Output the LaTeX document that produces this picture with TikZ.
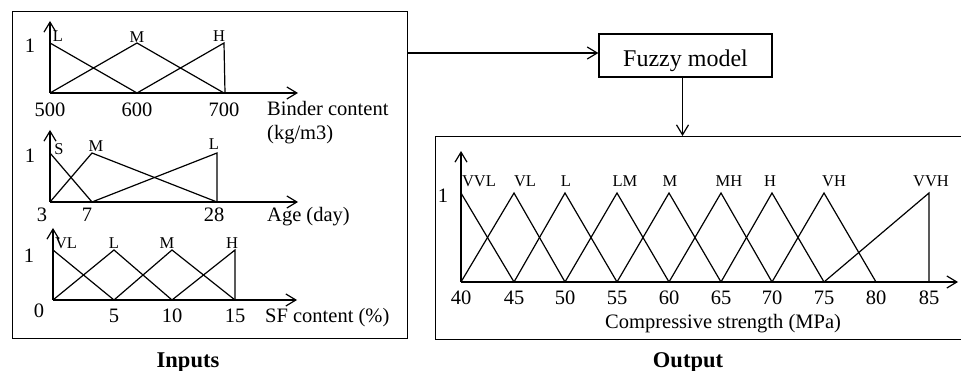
\documentclass[tikz,border=0pt]{standalone}
\usepackage{fontspec}
\setmainfont{Liberation Serif}
\usetikzlibrary{arrows.meta}
\begin{document}
\begin{tikzpicture}[x=1pt,y=-1pt,
  ax/.style={line width=1.2pt,-{Straight Barb[length=10pt,width=12pt,line width=1.2pt]}},
  mf/.style={line width=1.2pt, line join=miter},
  lbl/.style={font=\fontsize{16.5}{18}\selectfont, anchor=base, inner sep=0pt},
  num/.style={font=\fontsize{20.5}{24}\selectfont, anchor=base, inner sep=0pt},
  ttl/.style={font=\fontsize{20.5}{24}\selectfont, anchor=base west, inner sep=0pt},
  grouplabel/.style={font=\fontsize{22.5}{26}\selectfont\bfseries, anchor=base, inner sep=0pt},
  box/.style={draw, line width=1.2pt, inner sep=0pt},
  conn/.style={line width=1.2pt, -{Straight Barb[length=10pt,width=12pt,line width=1.2pt]}}
]
\useasboundingbox (0,0) rectangle (961,371);

% boxes
\node[box, minimum width=395pt, minimum height=327pt, anchor=north west] (inbox) at (12,11) {};
\node[box, minimum width=173pt, minimum height=43pt, text height=25pt, text depth=2pt,
      font=\fontsize{24}{28}\selectfont] (fuzzy) at (685.5,55.5) {Fuzzy model};
\node[box, minimum width=540pt, minimum height=203pt, anchor=north west] (outbox) at (435,136) {};

\draw[conn] ([yshift=2.5pt]inbox.east |- fuzzy.west) -- ([yshift=2.5pt]fuzzy.west);
\draw[conn] ([xshift=-3pt]fuzzy.south) -- ([xshift=-3pt]fuzzy.south |- outbox.north);

% ---- Binder content
\draw[ax] (50,93) -- (298,93);
\draw[ax] (50,93) -- (50,21);
\draw[mf] (50,93) -- (50,43) -- (137,93);
\draw[mf] (50,93) -- (137,43) -- (224,93);
\draw[mf] (137,93) -- (224,43) -- (225,93);
\node[lbl] (bL) at (58,42) {L};
\node[lbl] (bM) at (137,43) {M};
\node[lbl] (bH) at (219,42) {H};
\node[num] (b1) at (30,53) {1};
\node[num] (b500) at (50,117) {500};
\node[num] (b600) at (137,117) {600};
\node[num] (b700) at (224,117) {700};
\node[ttl] (bt1) at (267,116) {Binder content};
\node[ttl] (bt2) at (267,140) {(kg/m3)};

% ---- Age
\draw[ax] (50,202) -- (298,202);
\draw[ax] (50,202) -- (50,130);
\draw[mf] (50,202) -- (50,153) -- (92,202);
\draw[mf] (50,202) -- (92,153) -- (217,202);
\draw[mf] (92,202) -- (217,153) -- (217,202);
\node[lbl] (aS) at (59,155) {S};
\node[lbl] (aM) at (96,152) {M};
\node[lbl] (aL) at (214,150) {L};
\node[num] (a1) at (30,163) {1};
\node[num] (a3) at (42,222) {3};
\node[num] (a7) at (87,222) {7};
\node[num] (a28) at (214,222) {28};
\node[ttl] (at) at (267,222) {Age (day)};

% ---- SF content
\draw[ax] (53,300) -- (297,300);
\draw[ax] (53,300) -- (53,228);
\draw[mf] (53,300) -- (53,250) -- (114,300);
\draw[mf] (53,300) -- (114,250) -- (172,300);
\draw[mf] (114,300) -- (172,250) -- (235,300);
\draw[mf] (172,300) -- (235,250) -- (235,300);
\node[lbl] (sVL) at (66,249) {VL};
\node[lbl] (sL) at (114,249) {L};
\node[lbl] (sM) at (167,249) {M};
\node[lbl] (sH) at (232,249) {H};
\node[num] (s1) at (29,263) {1};
\node[num] (s0) at (39,318) {0};
\node[num] (s5) at (114,323) {5};
\node[num] (s10) at (172,323) {10};
\node[num] (s15) at (235,323) {15};
\node[ttl] (st) at (265,323) {SF content (\%)};

\node[grouplabel] (inlab) at (188,367) {Inputs};

% ---- Output
\draw[ax] (461,282) -- (958,282);
\draw[ax] (461,282) -- (461,151);
\draw[mf] (461,282) -- (461,193) -- (514,282);
\draw[mf] (461,282) -- (514,193) -- (565,282);
\draw[mf] (514,282) -- (565,193) -- (617,282);
\draw[mf] (565,282) -- (617,193) -- (669,282);
\draw[mf] (617,282) -- (669,193) -- (721,282);
\draw[mf] (669,282) -- (721,193) -- (772,282);
\draw[mf] (721,282) -- (772,193) -- (824,282);
\draw[mf] (772,282) -- (824,193) -- (876,282);
\draw[mf] (824,282) -- (929,193) -- (929,282);
\foreach \t/\x in {VVL/479, VL/525, L/566, LM/625, M/670, MH/729, H/770, VH/834, VVH/931}
  \node[lbl] (o\t) at (\x,187) {\t};
\foreach \v/\x in {40/461, 45/514, 50/565, 55/617, 60/669, 65/721, 70/772, 75/824, 80/876, 85/929}
  \node[num] (on\v) at (\x,305) {\v};
\node[num] (o1) at (443,203) {1};
\node[ttl] (ot) at (605,328) {Compressive strength (MPa)};

\node[grouplabel] (outlab) at (688,367) {Output};
\end{tikzpicture}
\end{document}
